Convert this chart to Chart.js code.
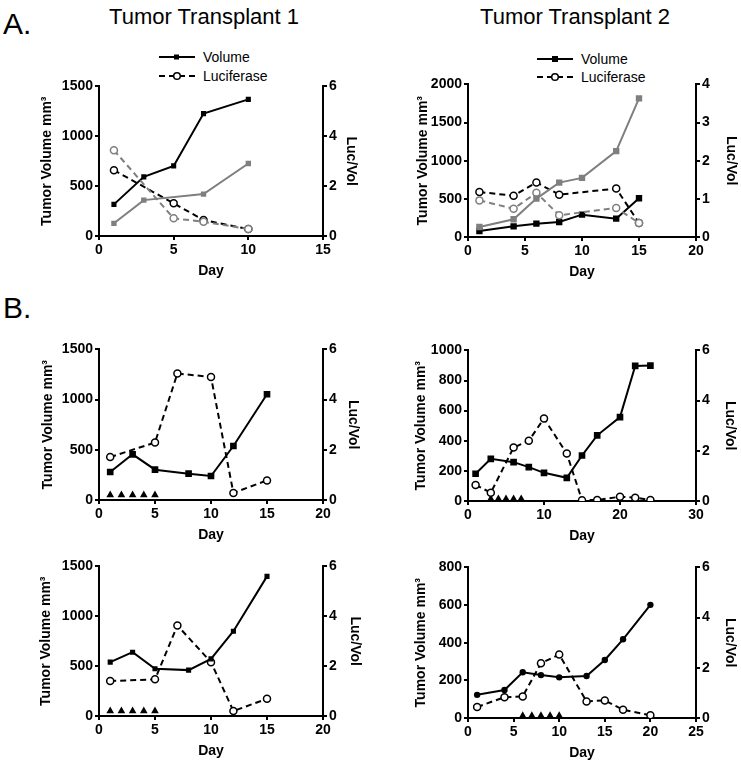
<!DOCTYPE html>
<html>
<head>
<meta charset="utf-8">
<script src="https://cdn.jsdelivr.net/npm/chart.js@4.4.1/dist/chart.umd.min.js"></script>
<style>
  body { margin: 0; background: #fff; overflow: hidden; font-family: "Liberation Sans", Arial, sans-serif; }
  #fig { position: relative; width: 741px; height: 766px; }
  .panel { position: absolute; }
  .txt { position: absolute; color: #000; white-space: nowrap; line-height: 1; }
  .title { font-size: 22px; transform: translateX(-50%); }
  .letter { font-size: 30px; }
  .leg { position: absolute; font-size: 14px; line-height: 14px; display: flex; align-items: center; white-space: nowrap; }
  .leg svg { margin-right: 8px; }
</style>
</head>
<body>
<div id="fig">
  <div class="txt letter" style="left:3px; top:9px;">A.</div>
  <div class="txt letter" style="left:3px; top:293px;">B.</div>
  <div class="txt title" style="left:204px; top:6px;">Tumor Transplant 1</div>
  <div class="txt title" style="left:575px; top:6px;">Tumor Transplant 2</div>

  <div class="leg" style="left:159px; top:50px;">
    <svg width="36" height="10"><line x1="0" y1="5" x2="36" y2="5" stroke="#000" stroke-width="2"/><rect x="15" y="2.5" width="5" height="5" fill="#000"/></svg>Volume
  </div>
  <div class="leg" style="left:159px; top:69px;">
    <svg width="36" height="10"><line x1="0" y1="5" x2="36" y2="5" stroke="#000" stroke-width="2" stroke-dasharray="6,4"/><circle cx="18" cy="5" r="3.3" fill="#fff" stroke="#000" stroke-width="1.5"/></svg>Luciferase
  </div>
  <div class="leg" style="left:537px; top:52px;">
    <svg width="36" height="10"><line x1="0" y1="5" x2="36" y2="5" stroke="#000" stroke-width="2"/><rect x="15" y="2" width="6" height="6" fill="#000"/></svg>Volume
  </div>
  <div class="leg" style="left:537px; top:70px;">
    <svg width="36" height="10"><line x1="0" y1="5" x2="36" y2="5" stroke="#000" stroke-width="2" stroke-dasharray="6,4"/><circle cx="18" cy="5" r="3.3" fill="#fff" stroke="#000" stroke-width="1.5"/></svg>Luciferase
  </div>

  <canvas class="panel" id="a1" width="324" height="206" style="left:37px; top:76px;"></canvas>
  <canvas class="panel" id="a2" width="328" height="209" style="left:413px; top:74px;"></canvas>
  <canvas class="panel" id="b1" width="325" height="207" style="left:38px; top:339px;"></canvas>
  <canvas class="panel" id="b2" width="329" height="207" style="left:411px; top:340px;"></canvas>
  <canvas class="panel" id="b3" width="329" height="206" style="left:36px; top:556px;"></canvas>
  <canvas class="panel" id="b4" width="329" height="207" style="left:411px; top:557px;"></canvas>
</div>

<script>
// A. Tumor Transplant 1
const t1Days = [1, 3, 5, 7, 10];
const t1Volume = [317, 593, 703, 1227, 1370];
const t1LucDays = [1, 5, 7, 10];
const t1Luc = [2.64, 1.31, 0.64, 0.28];
const t1GrayDays = [1, 3, 7, 10];
const t1GrayVolume = [127, 360, 420, 727];
const t1GrayLuc = [3.44, 0.71, 0.57, 0.28];

// A. Tumor Transplant 2
const t2Days = [1, 4, 6, 8, 10, 13, 15];
const t2Volume = [79, 140, 175, 197, 293, 240, 508];
const t2GrayVolume = [131, 232, 503, 713, 775, 1125, 1816];
const t2LucDays = [1, 4, 6, 8, 13, 15];
const t2Luc = [1.18, 1.08, 1.43, 1.11, 1.27, 0.37];
const t2GrayLuc = [0.96, 0.74, 1.16, 0.57, 0.76, 0.37];

// B. top left
const b1Days = [1, 3, 5, 8, 10, 12, 15];
const b1Volume = [279, 455, 302, 262, 239, 538, 1053];
const b1LucDays = [1, 5, 7, 10, 12, 15];
const b1Luc = [1.71, 2.29, 5.04, 4.90, 0.28, 0.78];
const b1DoseDays = [1, 2, 3, 4, 5];

// B. top right
const b2Days = [1, 3, 6, 8, 10, 13, 15, 17, 20, 22, 24];
const b2Volume = [181, 280, 258, 225, 187, 154, 302, 436, 557, 897, 899];
const b2Luc = [0.64, 0.33, 2.13, 2.40, 3.29, 1.89, 0.03, 0.04, 0.17, 0.13, 0.04];
const b2DoseDays = [3, 4, 5, 6, 7];

// B. bottom left
const b3Days = [1, 3, 5, 8, 10, 12, 15];
const b3Volume = [540, 640, 473, 460, 573, 850, 1400];
const b3LucDays = [1, 5, 7, 10, 12, 15];
const b3Luc = [1.40, 1.47, 3.63, 2.16, 0.20, 0.69];
const b3DoseDays = [1, 2, 3, 4, 5];

// B. bottom right
const b4Days = [1, 4, 6, 8, 10, 13, 15, 17, 20];
const b4Volume = [123, 149, 243, 228, 216, 223, 308, 418, 601];
const b4Luc = [0.44, 0.83, 0.86, 2.18, 2.53, 0.66, 0.70, 0.33, 0.11];
const b4DoseDays = [6, 7, 8, 9, 10];

const GRAY = '#7f7f7f';
const tickFont = { family: 'Liberation Sans', size: 14, weight: 'bold' };
const titleFont = { family: 'Liberation Sans', size: 14, weight: 'bold' };

function pts(xs, ys) {
    return xs.map((x, i) => ({ x: x, y: ys[i] }));
}

function volumeSet(xs, ys, color, style, radius) {
    return {
        data: pts(xs, ys), yAxisID: 'y',
        borderColor: color, backgroundColor: color, borderWidth: 2,
        pointStyle: style, pointRadius: radius, pointBorderWidth: 0,
        tension: 0
    };
}

function lucSet(xs, ys, color) {
    return {
        data: pts(xs, ys), yAxisID: 'y2',
        borderColor: color, backgroundColor: '#fff', borderWidth: 2, borderDash: [6, 4],
        pointStyle: 'circle', pointRadius: 3.5, pointBorderWidth: 1.5,
        tension: 0
    };
}

function doseSet(xs, level) {
    return {
        data: xs.map(x => ({ x: x, y: level })), yAxisID: 'y',
        showLine: false, borderWidth: 0,
        pointStyle: 'triangle', pointRadius: 4.4, pointBorderWidth: 0,
        backgroundColor: '#000', borderColor: '#000'
    };
}

function axis(pos, max, step, title, size) {
    return {
        type: 'linear', position: pos, min: 0, max: max,
        ticks: { stepSize: step, color: '#000', font: tickFont, padding: 2, maxRotation: 0, callback: v => String(v) },
        grid: { display: true, drawOnChartArea: false, drawTicks: true, tickLength: 4, color: '#000', lineWidth: 2 },
        border: { display: true, color: '#000', width: 2 },
        title: { display: true, text: title, color: '#000', font: titleFont, padding: 2 },
        afterFit: s => { if (s.isHorizontal()) s.height = size; else s.width = size; }
    };
}

function makePanel(id, datasets, ax) {
    new Chart(document.getElementById(id), {
        type: 'line',
        data: { datasets: datasets },
        options: {
            responsive: false,
            animation: false,
            layout: { padding: { top: 10, left: 0, right: 0, bottom: 0 } },
            plugins: { legend: { display: false }, tooltip: { enabled: false } },
            scales: {
                x: axis('bottom', ax.xMax, ax.xStep, 'Day', 46),
                y: axis('left', ax.yMax, ax.yStep, 'Tumor Volume mm³', ax.wl),
                y2: axis('right', ax.rMax, ax.rStep, 'Luc/Vol', ax.wr)
            }
        }
    });
}

makePanel('a1', [
    volumeSet(t1GrayDays, t1GrayVolume, GRAY, 'rect', 3.8),
    lucSet(t1LucDays, t1GrayLuc, GRAY),
    volumeSet(t1Days, t1Volume, '#000', 'rect', 3.6),
    lucSet(t1LucDays, t1Luc, '#000')
], { xMax: 15, xStep: 5, yMax: 1500, yStep: 500, rMax: 6, rStep: 2, wl: 62, wr: 38 });

makePanel('a2', [
    volumeSet(t2Days, t2GrayVolume, GRAY, 'rect', 4.5),
    lucSet(t2LucDays, t2GrayLuc, GRAY),
    volumeSet(t2Days, t2Volume, '#000', 'rect', 4.5),
    lucSet(t2LucDays, t2Luc, '#000')
], { xMax: 20, xStep: 5, yMax: 2000, yStep: 500, rMax: 4, rStep: 1, wl: 55, wr: 45 });

makePanel('b1', [
    volumeSet(b1Days, b1Volume, '#000', 'rect', 4.7),
    lucSet(b1LucDays, b1Luc, '#000'),
    doseSet(b1DoseDays, 50)
], { xMax: 20, xStep: 5, yMax: 1500, yStep: 500, rMax: 6, rStep: 2, wl: 61, wr: 40 });

makePanel('b2', [
    volumeSet(b2Days, b2Volume, '#000', 'rect', 4.7),
    lucSet(b2Days, b2Luc, '#000'),
    doseSet(b2DoseDays, 14)
], { xMax: 30, xStep: 10, yMax: 1000, yStep: 200, rMax: 6, rStep: 2, wl: 57, wr: 44 });

makePanel('b3', [
    volumeSet(b3Days, b3Volume, '#000', 'rect', 3.6),
    lucSet(b3LucDays, b3Luc, '#000'),
    doseSet(b3DoseDays, 50)
], { xMax: 20, xStep: 5, yMax: 1500, yStep: 500, rMax: 6, rStep: 2, wl: 63, wr: 42 });

makePanel('b4', [
    volumeSet(b4Days, b4Volume, '#000', 'circle', 3.2),
    lucSet(b4Days, b4Luc, '#000'),
    doseSet(b4DoseDays, 12)
], { xMax: 25, xStep: 5, yMax: 800, yStep: 200, rMax: 6, rStep: 2, wl: 57, wr: 44 });
</script>
</body>
</html>
